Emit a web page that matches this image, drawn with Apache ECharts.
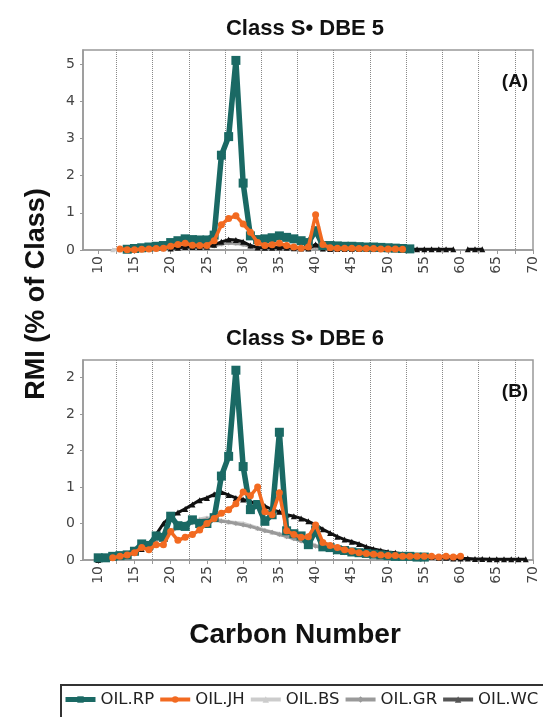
<!DOCTYPE html>
<html>
<head>
<meta charset="utf-8">
<script src="https://cdn.jsdelivr.net/npm/echarts@6/dist/echarts.min.js"></script>
<style>
  html, body { margin: 0; padding: 0; background: #fff; }
  #chart { width: 543px; height: 717px; }
</style>
</head>
<body>
<div id="chart"></div>
<script>
// carbon numbers (x)
var carbon = [10, 11, 12, 13, 14, 15, 16, 17, 18, 19,
              20, 21, 22, 23, 24, 25, 26, 27, 28, 29,
              30, 31, 32, 33, 34, 35, 36, 37, 38, 39,
              40, 41, 42, 43, 44, 45, 46, 47, 48, 49,
              50, 51, 52, 53, 54, 55, 56, 57, 58, 59,
              60, 61, 62, 63, 64, 65, 66, 67, 68, 69];

var seriesNames = ['OIL.RP', 'OIL.JH', 'OIL.BS', 'OIL.GR', 'OIL.WC'];

// panel A : Class S DBE 5
var rpA = [null, null, null, null, 0.02, 0.04, 0.06, 0.08, 0.10, 0.12,
           0.20, 0.25, 0.30, 0.28, 0.27, 0.27, 0.40, 2.55, 3.05, 5.10,
           1.80, 0.38, 0.28, 0.30, 0.33, 0.38, 0.34, 0.30, 0.25, 0.20,
           0.52, 0.12, 0.12, 0.11, 0.10, 0.10, 0.09, 0.08, 0.08, 0.07,
           0.06, 0.05, 0.04, 0.03, null, null, null, null, null, null,
           null, null, null, null, null, null, null, null, null, null];
var jhA = [null, null, null, 0.03, 0.01, 0.01, 0.02, 0.03, 0.04, 0.05,
           0.10, 0.15, 0.18, 0.13, 0.12, 0.12, 0.25, 0.68, 0.85, 0.92,
           0.70, 0.48, 0.20, 0.12, 0.14, 0.18, 0.12, 0.08, 0.05, 0.08,
           0.95, 0.15, 0.06, 0.05, 0.05, 0.05, 0.04, 0.04, 0.04, 0.03,
           0.03, 0.03, 0.02, null, null, null, null, null, null, null,
           null, null, null, null, null, null, null, null, null, null];
var bsA = [null, null, 0.01, 0.01, 0.01, 0.02, 0.02, 0.02, 0.03, 0.03,
           0.04, 0.05, 0.06, 0.06, 0.07, 0.08, 0.12, 0.17, 0.20, 0.19,
           0.16, 0.10, 0.06, 0.05, 0.05, 0.05, 0.05, 0.04, 0.04, 0.03,
           0.10, 0.03, 0.03, 0.02, 0.02, 0.02, 0.02, 0.02, 0.01, 0.01,
           0.01, null, null, null, null, null, null, null, null, null,
           null, null, null, null, null, null, null, null, null, null];
var grA = [null, null, null, null, null, 0.01, 0.02, 0.02, 0.03, 0.03,
           0.04, 0.05, 0.06, 0.06, 0.07, 0.08, 0.11, 0.16, 0.19, 0.18,
           0.15, 0.09, 0.06, 0.05, 0.05, 0.05, 0.04, 0.04, 0.03, 0.03,
           0.09, 0.03, 0.02, 0.02, 0.02, 0.02, 0.02, 0.01, 0.01, 0.01,
           0.01, null, null, null, null, null, null, null, null, null,
           null, null, null, null, null, null, null, null, null, null];
var wcA = [null, null, null, null, null, null, null, null, null, null,
           0.04, 0.06, 0.08, 0.08, 0.08, 0.09, 0.14, 0.22, 0.28, 0.27,
           0.22, 0.12, 0.07, 0.06, 0.06, 0.07, 0.06, 0.05, 0.04, 0.04,
           0.15, 0.04, 0.03, 0.03, 0.03, 0.03, 0.03, 0.03, 0.03, 0.03,
           0.03, 0.03, 0.02, 0.02, 0.02, 0.02, 0.02, 0.02, 0.02, 0.02,
           null, 0.02, 0.02, 0.02, null, null, null, null, null, null];

// panel B : Class S DBE 6
var rpB = [0.03, 0.03, 0.05, 0.06, 0.07, 0.12, 0.22, 0.20, 0.33, 0.31,
           0.60, 0.47, 0.46, 0.55, 0.50, 0.50, 0.58, 1.15, 1.42, 2.60,
           1.28, 0.69, 0.76, 0.53, 0.62, 1.75, 0.40, 0.36, 0.33, 0.21,
           0.41, 0.18, 0.17, 0.14, 0.13, 0.11, 0.10, 0.09, 0.08, 0.07,
           0.06, 0.05, 0.05, 0.05, 0.04, 0.04, null, null, null, null,
           null, null, null, null, null, null, null, null, null, null];
var jhB = [null, null, 0.03, 0.05, 0.07, 0.10, 0.17, 0.14, 0.21, 0.21,
           0.39, 0.27, 0.31, 0.35, 0.41, 0.50, 0.57, 0.64, 0.69, 0.77,
           0.93, 0.88, 1.00, 0.66, 0.62, 0.92, 0.40, 0.35, 0.31, 0.32,
           0.48, 0.24, 0.20, 0.17, 0.14, 0.12, 0.10, 0.09, 0.08, 0.07,
           0.06, 0.06, 0.05, 0.05, 0.05, 0.05, 0.05, 0.04, 0.05, 0.04,
           0.05, null, null, null, null, null, null, null, null, null];
var bsB = [0.02, 0.03, 0.04, 0.06, 0.08, 0.12, 0.17, 0.22, 0.28, 0.34,
           0.40, 0.45, 0.50, 0.53, 0.56, 0.58, 0.56, 0.54, 0.52, 0.51,
           0.50, 0.47, 0.44, 0.41, 0.38, 0.36, 0.33, 0.30, 0.27, 0.24,
           0.20, 0.17, 0.15, 0.13, 0.11, 0.09, 0.08, 0.07, 0.06, 0.05,
           0.04, 0.04, 0.03, 0.03, 0.02, 0.02, null, null, null, null,
           null, null, null, null, null, null, null, null, null, null];
var grB = [0.02, 0.03, 0.04, 0.05, 0.07, 0.11, 0.16, 0.21, 0.27, 0.33,
           0.39, 0.44, 0.48, 0.51, 0.54, 0.56, 0.55, 0.53, 0.52, 0.50,
           0.48, 0.46, 0.43, 0.40, 0.38, 0.35, 0.32, 0.29, 0.26, 0.23,
           0.19, 0.16, 0.14, 0.12, 0.10, 0.09, 0.08, 0.07, 0.06, 0.05,
           0.04, 0.03, 0.03, 0.02, 0.02, null, null, null, null, null,
           null, null, null, null, null, null, null, null, null, null];
var wcB = [0.00, 0.02, 0.04, 0.06, 0.08, 0.11, 0.15, 0.22, 0.35, 0.50,
           0.60, 0.65, 0.70, 0.76, 0.82, 0.85, 0.90, 0.93, 0.89, 0.85,
           0.83, 0.80, 0.77, 0.74, 0.69, 0.66, 0.62, 0.60, 0.57, 0.53,
           0.48, 0.42, 0.37, 0.32, 0.28, 0.25, 0.22, 0.18, 0.15, 0.13,
           0.11, 0.10, 0.08, 0.06, 0.05, 0.04, 0.04, 0.03, 0.03, 0.02,
           0.02, 0.02, 0.015, 0.015, 0.01, 0.01, 0.01, 0.01, 0.01, 0.01];

// axis ticks / labels
var xLabelValues = [10, 15, 20, 25, 30, 35, 40, 45, 50, 55, 60, 65, 70];
var xTickValues = [10, 12.5, 15, 17.5, 20, 22.5, 25, 27.5, 30, 32.5, 35, 37.5, 40,
                   42.5, 45, 47.5, 50, 52.5, 55, 57.5, 60, 62.5, 65, 67.5, 70];
var yValuesA = [0, 1, 2, 3, 4, 5];
var yLabelsA = ['0', '1', '2', '3', '4', '5'];
var yValuesB = [0, 0.5, 1, 1.5, 2, 2.5];
var yLabelsB = ['0', '0', '1', '2', '2', '2'];

var colors = {
    'OIL.RP': '#1a6964',
    'OIL.JH': '#f26a21',
    'OIL.BS': '#cccccc',
    'OIL.GR': '#9a9a9a',
    'OIL.WC': '#111111'
};
var styles = {
    'OIL.RP': { symbol: 'rect', size: 9, width: 5.5, z: 5 },
    'OIL.JH': { symbol: 'circle', size: 7, width: 3.5, z: 6 },
    'OIL.BS': { symbol: 'triangle', size: 5, width: 3.5, z: 2 },
    'OIL.GR': { symbol: 'diamond', size: 5, width: 3, z: 3 },
    'OIL.WC': { symbol: 'triangle', size: 6, width: 3, z: 4 }
};

function pairs(values) {
    var out = [];
    for (var i = 0; i < carbon.length; i++) {
        out.push([carbon[i], values[i]]);
    }
    return out;
}

function makeSeries(name, values, idx) {
    var s = styles[name];
    return {
        name: name,
        type: 'line',
        xAxisIndex: idx,
        yAxisIndex: idx,
        data: pairs(values),
        symbol: s.symbol,
        symbolSize: s.size,
        z: s.z,
        connectNulls: false,
        itemStyle: { color: colors[name] },
        lineStyle: { color: colors[name], width: s.width },
        emphasis: { disabled: true },
        animation: false
    };
}

function makeXAxis(idx) {
    return {
        type: 'value',
        gridIndex: idx,
        min: 7.9,
        max: 70,
        axisLine: { show: true, lineStyle: { color: '#999', width: 1.5 } },
        axisTick: { show: true, customValues: xTickValues, length: 4, lineStyle: { color: '#999' } },
        axisLabel: {
            customValues: xLabelValues,
            rotate: 90,
            margin: 6,
            color: '#444',
            fontSize: 14,
            fontFamily: 'DejaVu Sans'
        },
        splitLine: {
            show: true,
            showMinLine: false,
            showMaxLine: false,
            // only every other tick (multiples of 5) gets a dotted line
            lineStyle: { type: 'dotted', color: ['#888', 'rgba(0,0,0,0)'], width: 1 }
        }
    };
}

function makeYAxis(idx, max, values, labels) {
    return {
        type: 'value',
        gridIndex: idx,
        min: 0,
        max: max,
        axisLine: { show: true, lineStyle: { color: '#999', width: 1.5 } },
        axisTick: { show: true, customValues: values, length: 3, lineStyle: { color: '#999' } },
        axisLabel: {
            customValues: values,
            margin: 8,
            color: '#444',
            fontSize: 14,
            fontFamily: 'DejaVu Sans',
            formatter: function (v) {
                var i = values.indexOf(v);
                return i >= 0 ? labels[i] : '';
            }
        },
        splitLine: { show: false }
    };
}

var chart = echarts.init(document.getElementById('chart'), null, { renderer: 'canvas' });

var series = [
    makeSeries('OIL.RP', rpA, 0), makeSeries('OIL.JH', jhA, 0), makeSeries('OIL.BS', bsA, 0),
    makeSeries('OIL.GR', grA, 0), makeSeries('OIL.WC', wcA, 0),
    makeSeries('OIL.RP', rpB, 1), makeSeries('OIL.JH', jhB, 1), makeSeries('OIL.BS', bsB, 1),
    makeSeries('OIL.GR', grB, 1), makeSeries('OIL.WC', wcB, 1)
];

var titleFont = { fontFamily: 'Liberation Sans', fontWeight: 'bold', fontSize: 22, color: '#111' };
var tagFont = { fontFamily: 'Liberation Sans', fontWeight: 'bold', fontSize: 19, color: '#111' };

var option = {
    backgroundColor: '#fff',
    animation: false,
    title: [
        { text: 'Class S\u2022 DBE 5', left: 300, top: 13, textAlign: 'center', textStyle: titleFont },
        { text: 'Class S\u2022 DBE 6', left: 300, top: 323, textAlign: 'center', textStyle: titleFont },
        { text: '(A)', left: 510, top: 67, textAlign: 'center', textStyle: tagFont },
        { text: '(B)', left: 510, top: 377, textAlign: 'center', textStyle: tagFont }
    ],
    grid: [
        { left: 83, top: 50, width: 450, height: 200, show: true, borderColor: '#999', borderWidth: 1.5 },
        { left: 83, top: 360, width: 450, height: 200, show: true, borderColor: '#999', borderWidth: 1.5 }
    ],
    xAxis: [makeXAxis(0), makeXAxis(1)],
    yAxis: [
        makeYAxis(0, 5.38, yValuesA, yLabelsA),
        makeYAxis(1, 2.74, yValuesB, yLabelsB)
    ],
    legend: {
        left: 61,
        top: 685,
        width: 700,
        orient: 'horizontal',
        data: [
            { name: 'OIL.RP', lineStyle: { width: 5 } },
            { name: 'OIL.JH', lineStyle: { width: 4 } },
            { name: 'OIL.BS', lineStyle: { width: 4 } },
            { name: 'OIL.GR', lineStyle: { width: 4 } },
            { name: 'OIL.WC', itemStyle: { color: '#555' }, lineStyle: { color: '#555', width: 4 } }
        ],
        itemWidth: 30,
        itemHeight: 8,
        itemGap: 4,
        padding: [6, 20, 20, 2],
        borderColor: '#333',
        borderWidth: 2,
        textStyle: { fontFamily: 'DejaVu Sans', fontSize: 16.5, color: '#222' }
    },
    graphic: [
        {
            type: 'text',
            x: 37,
            y: 294,
            rotation: Math.PI / 2,
            style: {
                text: 'RMI (% of Class)',
                font: 'bold 27px "Liberation Sans"',
                fill: '#111',
                align: 'center',
                verticalAlign: 'middle'
            }
        },
        {
            type: 'text',
            x: 295,
            y: 635,
            style: {
                text: 'Carbon Number',
                font: 'bold 28px "Liberation Sans"',
                fill: '#111',
                align: 'center',
                verticalAlign: 'middle'
            }
        }
    ],
    series: series
};

chart.setOption(option);
</script>
</body>
</html>
